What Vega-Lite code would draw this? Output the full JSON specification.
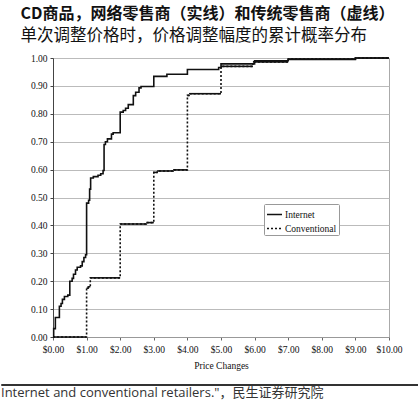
{
  "$schema": "https://vega.github.io/schema/vega-lite/v6.json",
  "padding": {"left": 0, "top": 6, "right": 0, "bottom": 0},
  "background": "white",
  "title": {
    "text": "CD商品，网络零售商（实线）和传统零售商（虚线）",
    "subtitle": "单次调整价格时，价格调整幅度的累计概率分布",
    "anchor": "start",
    "dx": 20,
    "font": "Noto Sans CJK SC",
    "fontSize": 16,
    "fontWeight": "bold",
    "color": "#111",
    "subtitleFont": "Noto Sans CJK SC",
    "subtitleFontSize": 16.5,
    "subtitleColor": "#111",
    "subtitlePadding": 6,
    "offset": 8
  },
  "spacing": 10,
  "vconcat": [
    {
      "spacing": 0,
      "hconcat": [
        {
          "width": 28,
          "height": 279,
          "view": {"stroke": null},
          "data": {"values": [{}]},
          "mark": {"type": "point", "opacity": 0}
        },
        {
          "width": 336,
          "height": 279,
          "view": {"stroke": "#aaa", "strokeWidth": 1},
          "data": {
            "values": [
              {"series": "Internet", "price": 0, "p": 0},
              {"series": "Internet", "price": 0.02, "p": 0.03},
              {"series": "Internet", "price": 0.07, "p": 0.07},
              {"series": "Internet", "price": 0.19, "p": 0.11},
              {"series": "Internet", "price": 0.24, "p": 0.12},
              {"series": "Internet", "price": 0.28, "p": 0.135},
              {"series": "Internet", "price": 0.34, "p": 0.145},
              {"series": "Internet", "price": 0.44, "p": 0.15},
              {"series": "Internet", "price": 0.5, "p": 0.2},
              {"series": "Internet", "price": 0.57, "p": 0.21},
              {"series": "Internet", "price": 0.61, "p": 0.225},
              {"series": "Internet", "price": 0.67, "p": 0.24},
              {"series": "Internet", "price": 0.72, "p": 0.25},
              {"series": "Internet", "price": 0.82, "p": 0.255},
              {"series": "Internet", "price": 0.87, "p": 0.27},
              {"series": "Internet", "price": 0.92, "p": 0.285},
              {"series": "Internet", "price": 0.97, "p": 0.295},
              {"series": "Internet", "price": 1.0, "p": 0.48},
              {"series": "Internet", "price": 1.06, "p": 0.49},
              {"series": "Internet", "price": 1.09, "p": 0.53},
              {"series": "Internet", "price": 1.12, "p": 0.57},
              {"series": "Internet", "price": 1.2, "p": 0.575},
              {"series": "Internet", "price": 1.34, "p": 0.58},
              {"series": "Internet", "price": 1.42, "p": 0.585},
              {"series": "Internet", "price": 1.49, "p": 0.597},
              {"series": "Internet", "price": 1.52, "p": 0.69},
              {"series": "Internet", "price": 1.56, "p": 0.7},
              {"series": "Internet", "price": 1.62, "p": 0.71},
              {"series": "Internet", "price": 1.74, "p": 0.727},
              {"series": "Internet", "price": 1.79, "p": 0.732},
              {"series": "Internet", "price": 2.0, "p": 0.806},
              {"series": "Internet", "price": 2.09, "p": 0.812},
              {"series": "Internet", "price": 2.16, "p": 0.82},
              {"series": "Internet", "price": 2.24, "p": 0.833},
              {"series": "Internet", "price": 2.39, "p": 0.865},
              {"series": "Internet", "price": 2.46, "p": 0.877},
              {"series": "Internet", "price": 2.56, "p": 0.893},
              {"series": "Internet", "price": 2.62, "p": 0.898},
              {"series": "Internet", "price": 3.0, "p": 0.934},
              {"series": "Internet", "price": 3.39, "p": 0.942},
              {"series": "Internet", "price": 4.0, "p": 0.959},
              {"series": "Internet", "price": 4.93, "p": 0.966},
              {"series": "Internet", "price": 5.0, "p": 0.979},
              {"series": "Internet", "price": 6.0, "p": 0.99},
              {"series": "Internet", "price": 7.0, "p": 0.995},
              {"series": "Internet", "price": 9.0, "p": 1.0},
              {"series": "Internet", "price": 10.0, "p": 1.0},
              {"series": "Conventional", "price": 0, "p": 0, "next": 1.0},
              {"series": "Conventional", "price": 1.0, "p": 0.175, "next": 1.05},
              {"series": "Conventional", "price": 1.05, "p": 0.18, "next": 1.11},
              {"series": "Conventional", "price": 1.11, "p": 0.212, "next": 2.0},
              {"series": "Conventional", "price": 2.0, "p": 0.405, "next": 2.8},
              {"series": "Conventional", "price": 2.8, "p": 0.41, "next": 3.0},
              {"series": "Conventional", "price": 3.0, "p": 0.59, "next": 3.1},
              {"series": "Conventional", "price": 3.1, "p": 0.595, "next": 3.6},
              {"series": "Conventional", "price": 3.6, "p": 0.599, "next": 4.0},
              {"series": "Conventional", "price": 4.0, "p": 0.866, "next": 4.05},
              {"series": "Conventional", "price": 4.05, "p": 0.872, "next": 5.0},
              {"series": "Conventional", "price": 5.0, "p": 0.97, "next": 5.95},
              {"series": "Conventional", "price": 5.95, "p": 0.986, "next": 7.0},
              {"series": "Conventional", "price": 7.0, "p": 0.996, "next": 9.0},
              {"series": "Conventional", "price": 9.0, "p": 1.0, "next": 10.0},
              {"series": "Conventional", "price": 10.0, "p": 1.0, "next": 10.0}
            ]
          },
          "encoding": {
            "x": {
              "field": "price",
              "type": "quantitative",
              "scale": {"domain": [0, 10], "nice": false},
              "axis": {
                "values": [0, 1, 2, 3, 4, 5, 6, 7, 8, 9, 10],
                "format": "$.2f",
                "labelOverlap": false,
                "labelBound": false,
                "labelFlush": false,
                "title": "Price Changes",
                "grid": false,
                "domainColor": "#999",
                "tickColor": "#666",
                "tickSize": 3,
                "labelPadding": 4,
                "titlePadding": 7
              }
            },
            "y": {
              "field": "p",
              "type": "quantitative",
              "scale": {"domain": [0, 1], "nice": false},
              "axis": {
                "values": [0, 0.1, 0.2, 0.3, 0.4, 0.5, 0.6, 0.7, 0.8, 0.9, 1.0],
                "format": ".2f",
                "labelOverlap": false,
                "labelFlush": false,
                "grid": true,
                "gridColor": "#bbb",
                "domainColor": "#444",
                "tickColor": "#444",
                "tickSize": 3,
                "labelPadding": 3,
                "title": null
              }
            }
          },
          "layer": [
            {
              "mark": {"type": "line", "interpolate": "step-after", "color": "#111", "strokeWidth": 1.6},
              "encoding": {
                "strokeDash": {
                  "field": "series",
                  "type": "nominal",
                  "scale": {"domain": ["Internet", "Conventional"], "range": [[1, 0], [2, 2]]},
                  "legend": {
                    "orient": "none",
                    "legendX": 263,
                    "legendY": 146,
                    "title": null,
                    "symbolType": "stroke",
                    "symbolSize": 225,
                    "symbolStrokeColor": "#111",
                    "symbolStrokeWidth": 1.6,
                    "labelFont": "Liberation Serif",
                    "labelFontSize": 9.5,
                    "labelColor": "#111",
                    "labelOffset": 2,
                    "rowPadding": 1,
                    "padding": 2,
                    "strokeColor": "#999",
                    "fillColor": "white",
                    "cornerRadius": 1
                  }
                }
              }
            },
            {
              "transform": [{"filter": "datum.series === 'Conventional'"}],
              "mark": {"type": "rule", "color": "#111", "strokeWidth": 1.6},
              "encoding": {
                "x2": {"field": "next"}
              }
            }
          ]
        }
      ]
    },
    {
      "width": 418,
      "height": 1,
      "view": {"stroke": "#333", "strokeWidth": 1},
      "data": {"values": [{}]},
      "mark": {"type": "point", "opacity": 0},
      "title": {
        "text": "Internet and conventional retailers.\"，民生证券研究院",
        "orient": "bottom",
        "anchor": "start",
        "font": "Open Sans, Noto Sans CJK SC",
        "fontSize": 13,
        "fontWeight": "normal",
        "color": "#333",
        "offset": 0
      }
    }
  ],
  "config": {
    "axis": {
      "labelFont": "Liberation Serif",
      "labelFontSize": 9.5,
      "labelColor": "#111",
      "titleFont": "Liberation Serif",
      "titleFontSize": 9.5,
      "titleFontWeight": "normal",
      "titleColor": "#111"
    }
  }
}
